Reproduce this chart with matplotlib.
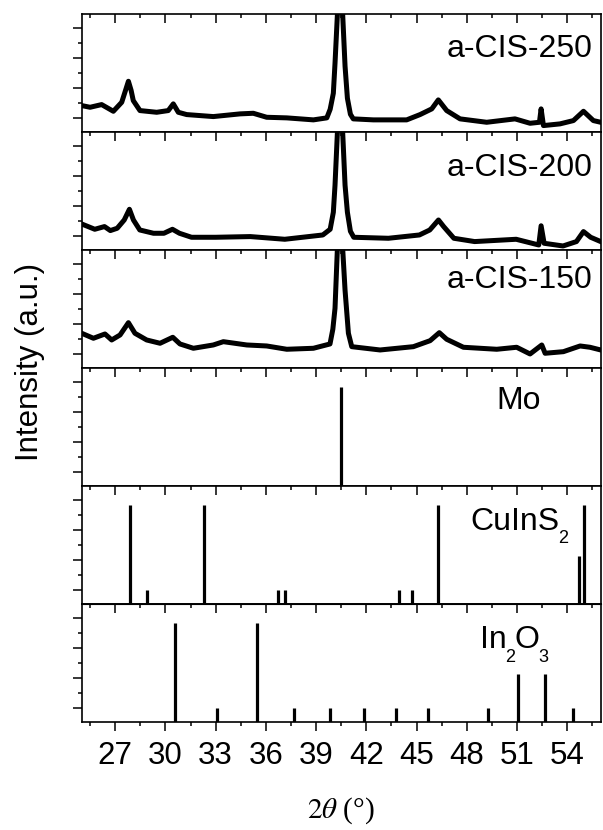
import matplotlib
matplotlib.use("Agg")
import matplotlib.pyplot as plt
from matplotlib.ticker import MultipleLocator

plt.rcParams['font.family'] = ['Liberation Sans', 'DejaVu Sans']

# measured XRD patterns (2theta in degrees, intensity in arbitrary panel units)
cis250_x = [25.0, 25.5, 26.19, 26.89, 27.39, 27.6, 27.79, 27.95, 28.08, 28.48, 29.48,
            30.17, 30.47, 30.77, 31.27, 32.86, 34.46, 35.25, 36.05, 37.25, 38.84,
            39.64, 39.84, 40.03, 40.13, 40.27, 40.43, 40.59, 40.73, 40.87, 41.05,
            41.22, 42.42, 44.41, 45.21, 45.91, 46.3, 46.8, 47.6, 49.19, 50.88, 51.78,
            52.34, 52.44, 52.58, 53.57, 54.37, 54.97, 55.56, 56.0]
cis250_y = [12.7, 11, 13.7, 7, 16, 27, 37, 28, 17.7, 7.7, 6,
            7.7, 14.4, 6, 3.7, 1.7, 4.4, 5, 1, 0.4, -1.6,
            0.4, 9, 25, 55, 103, 250, 103, 52, 20, 4,
            -0.6, -1.6, -1.6, 3.7, 9.4, 18.4, 7.7, -0.6, -4, -0.6, -5,
            -4, 9.4, -7.3, -5.6, -2.3, 7, -2.3, -4]

cis200_x = [25.0, 25.78, 26.36, 26.71, 27.12, 27.54, 27.85, 28.09, 28.47, 29.29, 29.91,
            30.42, 30.84, 31.56, 33.0, 35.07, 37.13, 39.4, 39.84, 40.03, 40.13, 40.27,
            40.43, 40.59, 40.73, 40.87, 41.05, 41.25, 43.32, 45.17, 45.79, 46.31, 46.62,
            47.23, 48.47, 50.95, 52.3, 52.44, 52.62, 53.75, 54.55, 54.97, 55.4, 56.0]
cis200_y = [12.3, 7, 9.7, 5.7, 8, 16.3, 27, 16.3, 6.3, 3, 3,
            7, 3, -1, -1, -0.3, -3, 1.3, 7, 24, 51, 103,
            250, 103, 51, 24, 5, -1, -2, 1.3, 6.3, 16.3, 9.7,
            -2, -5.3, -3, -8.7, 10.5, -7, -9.7, -5.3, 4.7, -1, -5.3]

cis150_x = [25.0, 25.7, 26.39, 26.79, 27.29, 27.79, 28.18, 28.88, 29.68, 30.44, 30.87,
            31.67, 32.86, 33.46, 34.86, 36.05, 37.25, 38.84, 39.83, 40.0, 40.13, 40.27,
            40.43, 40.59, 40.73, 40.93, 41.13, 42.82, 44.81, 45.81, 46.36, 46.8, 47.8,
            49.79, 50.98, 51.78, 52.48, 52.68, 53.77, 54.77, 55.36, 56.0]
cis150_y = [21, 16, 20.3, 14.3, 19.3, 31.6, 21, 14.3, 11, 17, 10.3,
            6, 9.3, 12.6, 9.3, 8.3, 5, 6, 10.3, 25, 46, 105,
            250, 105, 64, 21, 7.6, 4.3, 7.6, 13.6, 21.6, 15, 7,
            5, 7, 0.3, 9.3, 1, 2.6, 8.3, 7, 4.3]

# reference patterns (line positions and line tops)
mo_pos = [40.5]
mo_top = [85]
cis_pos = [27.88, 28.88, 32.32, 36.73, 37.17, 43.94, 44.75, 46.29, 54.73, 55.03]
cis_top = [85, 0, 85, 0, 0, 0, 0, 85, 34, 85]
ino_pos = [30.58, 33.10, 35.46, 37.69, 39.81, 41.84, 43.80, 45.68, 49.29, 51.03, 52.70, 54.36]
ino_top = [85, 0, 85, 0, 0, 0, 0, 0, 0, 34, 34, 0]

xticks = [27, 30, 33, 36, 39, 42, 45, 48, 51, 54]
xminor = [25.5 + 3 * k for k in range(11)]


def chem_label(ax, x, y, parts):
    # parts alternate: normal text, subscript, normal text, ...
    main = ax.text(x, y, parts[0], fontsize=23, va='baseline')
    prev = main
    for k, p in enumerate(parts[1:]):
        if k % 2 == 0:
            prev = ax.annotate(p, xy=(1, 0), xycoords=(prev, main), xytext=(-1, -4.5),
                               textcoords='offset points', fontsize=13, va='baseline')
        else:
            prev = ax.annotate(p, xy=(1, 0), xycoords=(prev, main), xytext=(-0.5, 0),
                               textcoords='offset points', fontsize=23, va='bottom')


fig = plt.figure(figsize=(6.03, 8.30), dpi=100)
axes = fig.subplots(6, 1, sharex=True, gridspec_kw=dict(hspace=0))
fig.subplots_adjust(left=0.1355, right=0.9962, top=0.9828, bottom=0.1298)

ymin, ymax = -14, 104

curves = [(cis250_x, cis250_y, 'a-CIS-250', 61.6),
          (cis200_x, cis200_y, 'a-CIS-200', 60.6),
          (cis150_x, cis150_y, 'a-CIS-150', 66.5)]
for ax, (x, y, name, ty) in zip(axes[:3], curves):
    ax.plot(x, y, color='black', lw=3.6, solid_joinstyle='round')
    ax.text(55.5, ty, name, ha='right', va='baseline', fontsize=23)

refs = [(mo_pos, mo_top, ['Mo'], 49.75, 63),
        (cis_pos, cis_top, ['CuInS', '2'], 48.2, 60.3),
        (ino_pos, ino_top, ['In', '2', 'O', '3'], 48.78, 60)]
for ax, (pos, top, parts, tx, ty) in zip(axes[3:], refs):
    ax.vlines(pos, ymin, top, color='black', lw=2.3)
    chem_label(ax, tx, ty, parts)

for i, ax in enumerate(axes):
    ax.set_xlim(25, 56)
    ax.set_ylim(ymin, ymax)
    ax.set_yticks([0, 30, 60, 90])
    ax.yaxis.set_minor_locator(MultipleLocator(15))
    ax.set_yticklabels([])
    ax.tick_params(axis='y', which='major', direction='out', length=6.5, width=1.1)
    ax.tick_params(axis='y', which='minor', direction='out', length=3, width=1.1)
    ax.set_xticks(xticks)
    ax.set_xticks(xminor, minor=True)
    for s in ax.spines.values():
        s.set_linewidth(1.2)
    if i < 5:
        ax.tick_params(axis='x', which='both', top=True, bottom=False,
                       direction='in', labelbottom=False, width=1.1)
        ax.tick_params(axis='x', which='major', length=6.5)
        ax.tick_params(axis='x', which='minor', length=3)

bot = axes[5]
bot.tick_params(axis='x', which='both', direction='out', width=1.1,
                labelsize=22.5, pad=7)
bot.tick_params(axis='x', which='major', length=6.5)
bot.tick_params(axis='x', which='minor', length=3)
sec = bot.secondary_xaxis('top')
sec.set_xticks(xticks)
sec.set_xticks(xminor, minor=True)
sec.tick_params(axis='x', which='both', direction='in', labeltop=False, width=1.1)
sec.tick_params(axis='x', which='major', length=6.5)
sec.tick_params(axis='x', which='minor', length=3)

fig.text(30 / 603, 1 - 362 / 830, 'Intensity (a.u.)', rotation=90,
         ha='center', va='center', fontsize=22.5)
fig.text(341 / 603, 1 - 818 / 830, r'$2\theta$ (°)', ha='center', va='baseline',
         fontsize=21, family='Liberation Serif', math_fontfamily='stix')

fig.savefig('out.png', dpi=100)
